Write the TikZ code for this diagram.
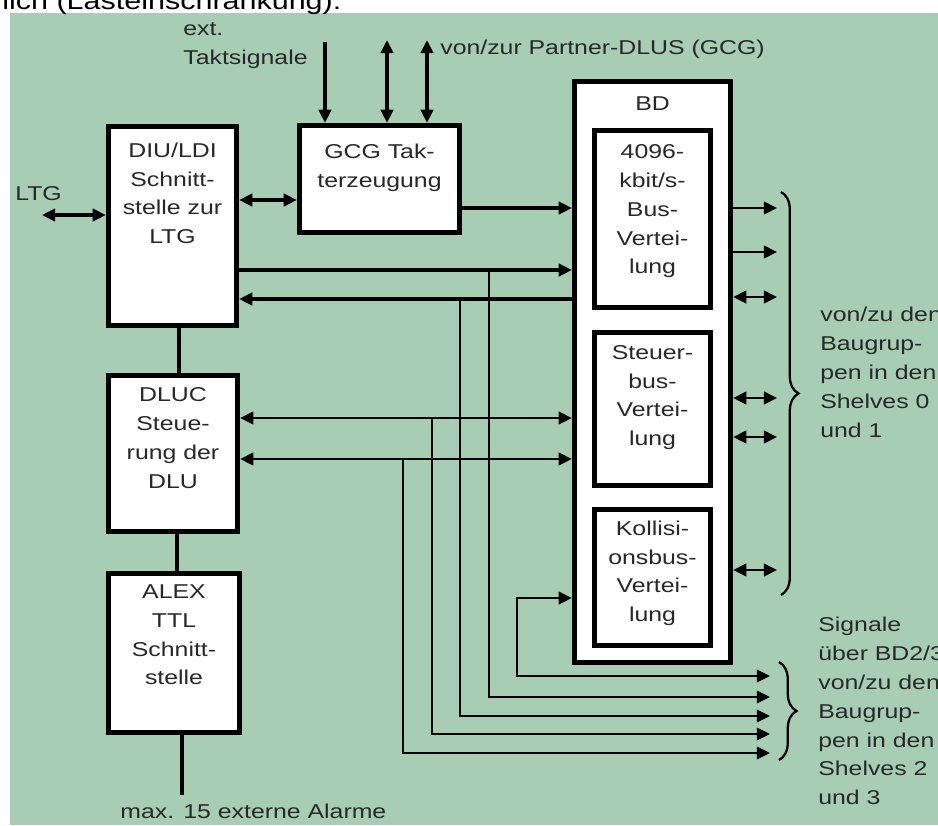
\documentclass[tikz,border=0pt]{standalone}
\usepackage{fontspec}
\setmainfont[FakeStretch=1.24]{Liberation Sans}
\usetikzlibrary{arrows.meta}
\usetikzlibrary{decorations.pathreplacing}

\definecolor{bggreen}{RGB}{167,205,180}
\definecolor{txtgray}{RGB}{40,40,40}

\tikzset{
  box/.style={draw, line width=2.7pt, fill=white, inner sep=0pt},
  boxtext/.style={anchor=north, align=center, inner sep=0pt, text=txtgray},
  lbl/.style={inner sep=0pt, text=txtgray},
  sig/.style={line width=1.6pt},
  bus/.style={line width=2pt},
  cbrace/.style={decorate, decoration={brace, amplitude=10pt}, line width=1.3pt},
}

\begin{document}
\begin{tikzpicture}[x=0.02cm, y=-0.02cm, >={Triangle[length=7.5pt,width=7pt]},
    font=\fontsize{11.4}{16.4}\selectfont]
    \useasboundingbox (0,0) rectangle (938,826);
    \fill[bggreen] (10,13) rectangle (938,825);
    \node[anchor=base west, inner sep=0pt, font=\fontsize{14}{16}\selectfont] (head) at (2,9) {lich (Lasteinschränkung):};

    % left column
    \node[box, minimum width=2.57cm, minimum height=3.99cm] (diu) at (172.5,226) {};
    \node[boxtext] (diu-t) at ([yshift=-0.37cm]diu.north) {DIU/LDI\\Schnitt-\\stelle zur\\LTG};
    \node[box, minimum width=2.59cm, minimum height=3.13cm] (dluc) at (173,453.5) {};
    \node[boxtext] (dluc-t) at ([yshift=-0.29cm]dluc.north) {DLUC\\Steue-\\rung der\\DLU};
    \node[box, minimum width=2.63cm, minimum height=3.19cm] (alex) at (174,653) {};
    \node[boxtext] (alex-t) at ([yshift=-0.27cm]alex.north) {ALEX\\TTL\\Schnitt-\\stelle};

    % clock generator
    \node[box, minimum width=3.21cm, minimum height=2.15cm] (gcg) at (379.5,179) {};
    \node[boxtext] (gcg-t) at ([yshift=-0.41cm]gcg.north) {GCG Tak-\\terzeugung};

    % bus distributor
    \node[box, minimum width=3.13cm, minimum height=11.63cm] (bd) at (652.5,372) {};
    \node[boxtext] (bd-t) at ([yshift=-0.35cm]bd.north) {BD};
    \node[box, minimum width=2.33cm, minimum height=3.55cm] (bus) at (652.5,219) {};
    \node[boxtext] (bus-t) at ([yshift=-0.33cm]bus.north) {4096-\\kbit/s-\\Bus-\\Vertei-\\lung};
    \node[box, minimum width=2.33cm, minimum height=3.07cm] (steuer) at (652.5,409) {};
    \node[boxtext] (steuer-t) at ([yshift=-0.30cm]steuer.north) {Steuer-\\bus-\\Vertei-\\lung};
    \node[box, minimum width=2.33cm, minimum height=2.73cm] (koll) at (652.5,577.5) {};
    \node[boxtext] (koll-t) at ([yshift=-0.27cm]koll.north) {Kollisi-\\onsbus-\\Vertei-\\lung};

    % external ends
    \coordinate (ltg) at (42,215);
    \coordinate (alarm) at (182,795);
    \coordinate (clk) at (325,42);
    \coordinate (gcgA) at (387,40);
    \coordinate (gcgB) at (427,40);
    \coordinate (s1) at (770,676);
    \coordinate (s2) at (770,697);
    \coordinate (s3) at (770,716);
    \coordinate (s4) at (770,734);
    \coordinate (s5) at (770,753);

    \draw[bus, <->] (ltg) -- (diu.west |- ltg);
    \node[lbl, anchor=base west] (ltg-t) at (15,200) {LTG};
    \draw[bus] (diu.south -| 179,0) -- (dluc.north -| 179,0);
    \draw[bus] (dluc.south -| 177,0) -- (alex.north -| 177,0);
    \draw[bus] (alex.south -| alarm) -- (alarm);
    \node[lbl, anchor=base west] (alarm-t) at (120,818) {max. 15 externe Alarme};

    \draw[bus, ->] (clk) -- (gcg.north -| clk);
    \draw[bus, <->] (gcgA) -- (gcg.north -| gcgA);
    \draw[bus, <->] (gcgB) -- (gcg.north -| gcgB);
    \node[lbl, anchor=north west, align=left] (clk-t) at (183,22) {ext.\\Taktsignale};
    \node[lbl, anchor=base west] (partner-t) at (440,54) {von/zur Partner-DLUS (GCG)};

    \draw[bus, <->] (diu.east |- 0,200) -- (gcg.west |- 0,200);
    \draw[bus, ->] (gcg.east |- 0,208) -- (bd.west |- 0,208);

    % buses between the modules
    \draw[bus, ->] (diu.east |- 0,270) -- (bd.west |- 0,270);
    \draw[bus, <-] (diu.east |- 0,299) -- (bd.west |- 0,299);
    \draw[sig, <->] (dluc.east |- 0,418) -- (bd.west |- 0,418);
    \draw[sig, <->] (dluc.east |- 0,459) -- (bd.west |- 0,459);

    % branches to shelves 2 and 3
    \draw[sig, <->] (bd.west |- 0,598) -| (517,676) -- (s1);
    \draw[sig, ->] (489,270) |- (s2);
    \draw[sig, ->] (460,299) |- (s3);
    \draw[sig, ->] (432,418) |- (s4);
    \draw[sig, ->] (403,459) |- (s5);

    % outputs to shelves 0 and 1
    \draw[sig, ->] (bd.east |- 0,208) -- ++(44,0);
    \draw[sig, ->] (bd.east |- 0,252) -- ++(44,0);
    \draw[sig, <->] (bd.east |- 0,297) -- ++(44,0);
    \draw[sig, <->] (bd.east |- 0,398) -- ++(44,0);
    \draw[sig, <->] (bd.east |- 0,437) -- ++(44,0);
    \draw[sig, <->] (bd.east |- 0,570) -- ++(44,0);

    \draw[cbrace] (781,192) -- (781,595);
    \draw[cbrace] (779,662) -- (779,760);
    \node[lbl, anchor=north west, align=left] (shelf01) at (820,307) {von/zu den\\Baugrup-\\pen in den\\Shelves 0\\und 1};
    \node[lbl, anchor=north west, align=left] (shelf23) at (818,617) {Signale\\über BD2/3\\von/zu den\\Baugrup-\\pen in den\\Shelves 2\\und 3};
\end{tikzpicture}
\end{document}
